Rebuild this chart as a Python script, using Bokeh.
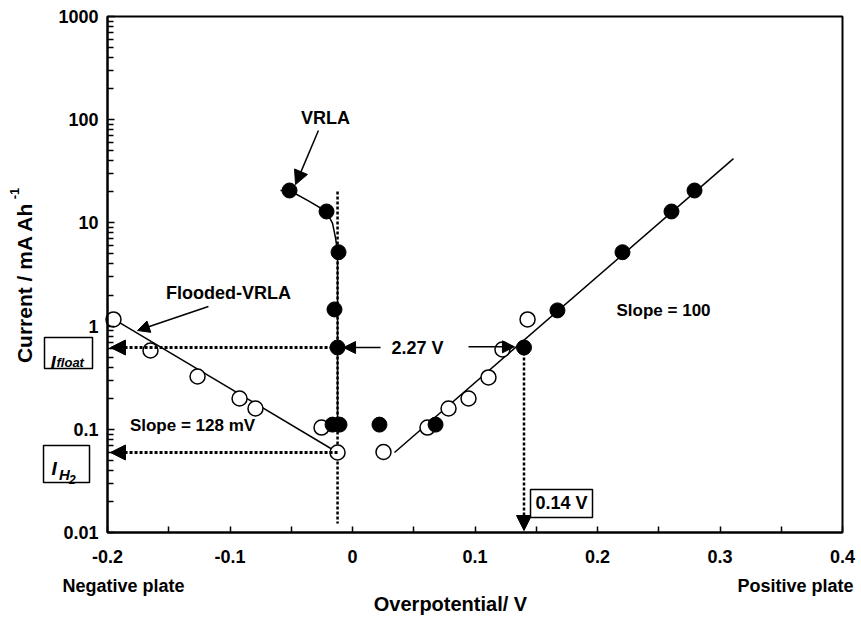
from bokeh.plotting import figure
from bokeh.models import (Range1d, FixedTicker, CustomJSTickFormatter, Label,
                          Arrow, NormalHead, BoxAnnotation)
from bokeh.embed import file_html
from bokeh.resources import INLINE

# ---- measured data -------------------------------------------------------
# VRLA cell (filled circles), negative plate polarisation
vrla_neg_x = [-0.0514, -0.0212, -0.0114, -0.0147, -0.0122, -0.0163, -0.0106]
vrla_neg_i = [20.6, 12.9, 5.2, 1.45, 0.62, 0.111, 0.111]
# VRLA cell, point near zero overpotential
vrla_mid_x = [0.0220]
vrla_mid_i = [0.111]
# VRLA cell, positive plate polarisation
vrla_pos_x = [0.0678, 0.14, 0.1673, 0.2204, 0.2604, 0.2792]
vrla_pos_i = [0.111, 0.62, 1.42, 5.2, 12.9, 20.6]

# Flooded-VRLA cell (open circles)
flood_neg_x = [-0.1951, -0.1649, -0.1265, -0.0922, -0.0792, -0.0253, -0.0122]
flood_neg_i = [1.16, 0.58, 0.325, 0.199, 0.159, 0.104, 0.0596]
flood_pos_x = [0.0253, 0.0612, 0.0784, 0.0947, 0.111, 0.1224, 0.1429]
flood_pos_i = [0.0603, 0.104, 0.159, 0.199, 0.318, 0.593, 1.16]

# Tafel fit lines
tafel_neg_x = [-0.196, -0.0122]
tafel_neg_i = [1.19, 0.0596]
tafel_pos_x = [0.0343, 0.311]
tafel_pos_i = [0.0596, 42.0]

# Guide curve through the VRLA negative-plate points
vrla_curve_x = [-0.0588, -0.0514, -0.0367, -0.0212, -0.0163, -0.0139, -0.0122, -0.0122]
vrla_curve_i = [20.6, 20.6, 16.5, 12.9, 9.9, 7.2, 5.2, 0.111]

# Key values
float_current = 0.62      # I_float
h2_current = 0.0596       # I_H2
neg_float_eta = -0.0122   # negative plate overpotential at float
pos_float_eta = 0.14      # positive plate overpotential at float

# Axes extent and ticks
x_lo, x_hi = -0.2, 0.4
y_lo, y_hi = 0.01, 1000
x_ticks = [-0.2, -0.1, 0.0, 0.1, 0.2, 0.3, 0.4]
x_minor = [-0.15, -0.05, 0.05, 0.15, 0.25, 0.35]
y_ticks = [0.01, 0.1, 1, 10, 100, 1000]
y_minor = [m * 10.0 ** e for e in range(-2, 3) for m in range(2, 10)]

FONT = "Liberation Sans"

# The drawing area spans the whole page so that the side annotations
# (axis titles, current markers) sit inside it; the axes are pinned to the
# lower-left corner of the plotting box.
p = figure(width=861, height=618,
           x_range=Range1d(-0.28735, 0.41551),
           y_range=Range1d(10 ** -2.8333, 10 ** 3.155),
           y_axis_type="log", output_backend="svg", toolbar_location=None,
           min_border=0, min_border_left=0, min_border_right=0,
           min_border_top=0, min_border_bottom=0)
p.grid.visible = False
p.background_fill_color = "white"
p.border_fill_color = "white"
p.outline_line_color = None

fmt = CustomJSTickFormatter(code="return Number(tick.toPrecision(4)).toString();")

p.xaxis.ticker = FixedTicker(ticks=x_ticks, minor_ticks=x_minor)
p.yaxis.ticker = FixedTicker(ticks=y_ticks, minor_ticks=y_minor)
p.xaxis.fixed_location = y_lo
p.yaxis.fixed_location = x_lo
p.xaxis.bounds = (x_lo, x_hi)
p.yaxis.bounds = (y_lo, y_hi)
for ax in (p.xaxis, p.yaxis):
    ax.formatter = fmt
    ax.axis_line_width = 2
    ax.axis_line_color = "black"
    ax.major_tick_line_width = 1.5
    ax.minor_tick_line_width = 1.5
    ax.major_tick_out = 0
    ax.minor_tick_out = 0
    ax.major_label_text_font = FONT
    ax.major_label_text_font_style = "bold"
    ax.major_label_text_font_size = "18px"
    ax.major_label_text_color = "black"
p.xaxis.major_tick_in = 6
p.xaxis.minor_tick_in = 6
p.xaxis.major_label_standoff = 17
p.yaxis.major_tick_in = 7
p.yaxis.minor_tick_in = 6
p.yaxis.major_label_standoff = 9

# plotting box outline
p.add_layout(BoxAnnotation(left=x_lo, right=x_hi, bottom=y_lo, top=y_hi,
                           fill_alpha=0, line_color="black", line_alpha=1.0,
                           line_width=2))

# fitted lines and guide curve
p.line(tafel_neg_x, tafel_neg_i, line_color="black", line_width=1.5)
p.line(tafel_pos_x, tafel_pos_i, line_color="black", line_width=1.5)
p.line(vrla_curve_x, vrla_curve_i, line_color="black", line_width=1.5)

# dotted guides
p.line([neg_float_eta, neg_float_eta], [20.1, 0.0122], line_color="black",
       line_width=2.5, line_dash="3 2")

dot_kw = dict(line_color="black", line_width=3, line_dash="3 2")
p.add_layout(Arrow(end=NormalHead(size=15, fill_color="black", line_color="black"),
                   x_start=neg_float_eta, y_start=float_current,
                   x_end=-0.1976, y_end=float_current, **dot_kw))
p.add_layout(Arrow(end=NormalHead(size=15, fill_color="black", line_color="black"),
                   x_start=neg_float_eta, y_start=h2_current,
                   x_end=-0.1976, y_end=h2_current, **dot_kw))
p.add_layout(Arrow(end=NormalHead(size=15, fill_color="black", line_color="black"),
                   x_start=pos_float_eta, y_start=float_current,
                   x_end=pos_float_eta, y_end=0.01045,
                   line_color="black", line_width=2.5, line_dash="3 2"))

# data points
p.scatter(flood_neg_x, flood_neg_i, size=15, marker="circle",
          fill_color="white", line_color="black", line_width=1.5)
p.scatter(flood_pos_x, flood_pos_i, size=15, marker="circle",
          fill_color="white", line_color="black", line_width=1.5)
p.scatter(vrla_neg_x, vrla_neg_i, size=15, marker="circle",
          fill_color="black", line_color="black")
p.scatter(vrla_mid_x, vrla_mid_i, size=15, marker="circle",
          fill_color="black", line_color="black")
p.scatter(vrla_pos_x, vrla_pos_i, size=15, marker="circle",
          fill_color="black", line_color="black")


# pointer arrows
def pointer(x0, y0, x1, y1, size=12):
    p.add_layout(Arrow(end=NormalHead(size=size, fill_color="black", line_color="black"),
                       x_start=x0, y_start=y0, x_end=x1, y_end=y1,
                       line_color="black", line_width=1.5))


pointer(-0.0278, 78.6, -0.0465, 23.5, size=14)
pointer(-0.1176, 1.55, -0.1755, 0.906)
pointer(0.0229, float_current, -0.0073, float_current)
pointer(0.0947, 0.63, 0.1322, 0.63)


def text(x, y, s, size="18px", align="center", baseline="middle", style="bold", **kw):
    lab = Label(x=x, y=y, text=s, text_font=FONT, text_font_style=style,
                text_font_size=size, text_align=align, text_baseline=baseline,
                text_color="black", **kw)
    p.add_layout(lab)
    return lab


def frame_box(left, right, bottom, top):
    p.add_layout(BoxAnnotation(left=left, right=right, bottom=bottom, top=top,
                               fill_color="white", fill_alpha=1.0,
                               line_color="black", line_alpha=1.0,
                               line_width=1.5))


text(-0.022, 105, "VRLA")
text(-0.1012, 2.07, "Flooded-VRLA")
text(-0.1306, 0.109, "Slope = 128 mV", size="17px")
text(0.2539, 1.42, "Slope = 100", size="17px")
text(0.0531, float_current, "2.27 V")

# 0.14 V readout
frame_box(0.14531, 0.19592, 0.01397, 0.0261)
text(0.1706, 0.0191, "0.14 V")

# current markers on the left
frame_box(-0.25143, -0.21224, 0.388, 0.775)
text(-0.24653, 0.444, "I", size="19px", align="left", baseline="alphabetic",
     style="bold italic")
text(-0.24163, 0.444, "float", size="13px", align="left", baseline="alphabetic",
     style="bold italic")

frame_box(-0.25224, -0.21469, 0.0305, 0.0697)
text(-0.24571, 0.04171, "I", size="19px", align="left", baseline="alphabetic",
     style="bold italic")
text(-0.23959, 0.03648, "H", size="15px", align="left", baseline="alphabetic",
     style="bold italic")
text(-0.23143, 0.03299, "2", size="12px", align="left", baseline="alphabetic",
     style="bold italic")

# axis titles
text(-0.2367, 0.0030, "Negative plate", align="left")
text(0.409, 0.0030, "Positive plate", align="right")
text(0.08, 0.00205, "Overpotential/ V", size="20px")
text(-0.2678, 2.64, "Current / mA Ah", size="21px", angle=1.5708)
text(-0.2759, 19.3, "-1", size="13px", angle=1.5708)

open("out.html", "w").write(file_html(p, INLINE))
